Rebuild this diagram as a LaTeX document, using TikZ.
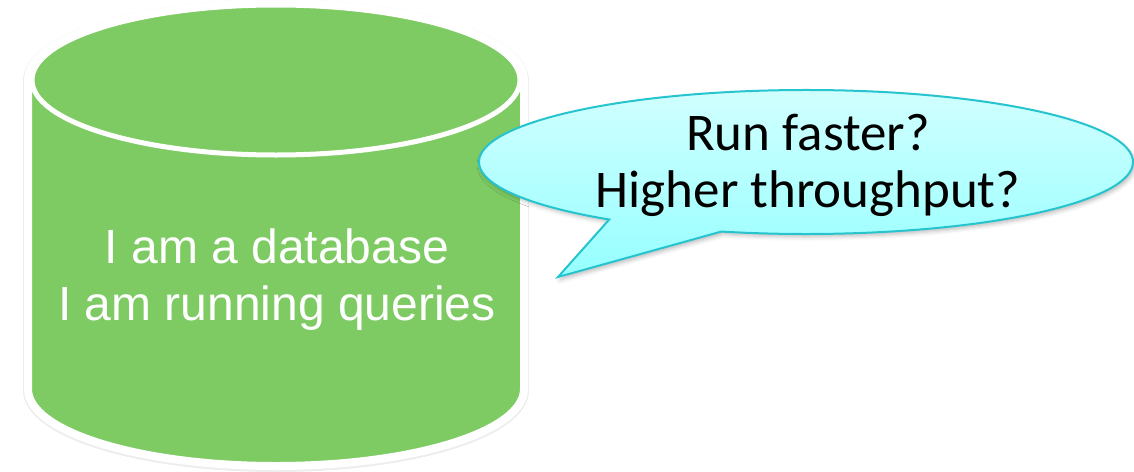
\documentclass[tikz,border=0pt]{standalone}
\usepackage{fontspec}
\setmainfont{Liberation Sans}
\newfontfamily\bubblefont{Carlito}
\usetikzlibrary{calc,shadows.blur}

\definecolor{dbgreen}{RGB}{126,203,100}
\definecolor{bubbletop}{RGB}{212,255,255}
\definecolor{bubblebottom}{RGB}{150,255,255}
\definecolor{bubbleedge}{RGB}{38,196,206}

\tikzset{
  dbtext/.style={font=\fontsize{48}{58}\selectfont, text=white, inner sep=0pt, anchor=base},
  asktext/.style={font=\bubblefont\fontsize{53}{57}\selectfont, text=black, inner sep=0pt, anchor=base},
  rimline/.style={draw=white, line width=5pt},
}

\begin{document}
\begin{tikzpicture}[x=1pt, y=-1pt]
  \useasboundingbox (0,0) rectangle (1134,471);

  % database cylinder: centres of the top and bottom ellipses
  \coordinate (topc) at (276,80);
  \coordinate (botc) at (276,389);

  % soft outline shadow
  \draw[black!7, line width=10pt, line join=round]
    (28,81) -- (28,390)
    arc[start angle=180, end angle=360, x radius=248pt, y radius=77pt]
    -- (524,81)
    arc[start angle=0, end angle=180, x radius=248pt, y radius=77pt] -- cycle;

  % cylinder body with white rim
  \filldraw[fill=dbgreen, draw=white, line width=8pt, line join=round]
    (28,80) -- (28,389)
    arc[start angle=180, end angle=360, x radius=248pt, y radius=77pt]
    -- (524,80)
    arc[start angle=0, end angle=180, x radius=248pt, y radius=77pt] -- cycle;

  % top face of the cylinder
  \filldraw[fill=dbgreen, rimline]
    (topc) ellipse[x radius=244pt, y radius=75pt];

  \node[dbtext] (db1) at (277,263) {I am a database};
  \node[dbtext] (db2) at (277,320) {I am running queries};

  % speech bubble with its tail
  \coordinate (bc)  at (806,162);
  \coordinate (tip) at (558,277);
  \path[top color=bubbletop, bottom color=bubblebottom,
        draw=bubbleedge, line width=2pt, line join=miter,
        blur shadow={shadow xshift=2pt, shadow yshift=-3pt,
                     shadow blur radius=4pt, shadow opacity=25}]
    ($(bc)+(255:327pt and 72pt)$) -- (tip)
    -- ($(bc)+(233:327pt and 72pt)$)
    arc[start angle=233, end angle=-105, x radius=327pt, y radius=72pt]
    -- cycle;

  \node[asktext] (q1) at (808,150) {Run faster?};
  \node[asktext] (q2) at (808,207) {Higher throughput?};
\end{tikzpicture}
\end{document}
